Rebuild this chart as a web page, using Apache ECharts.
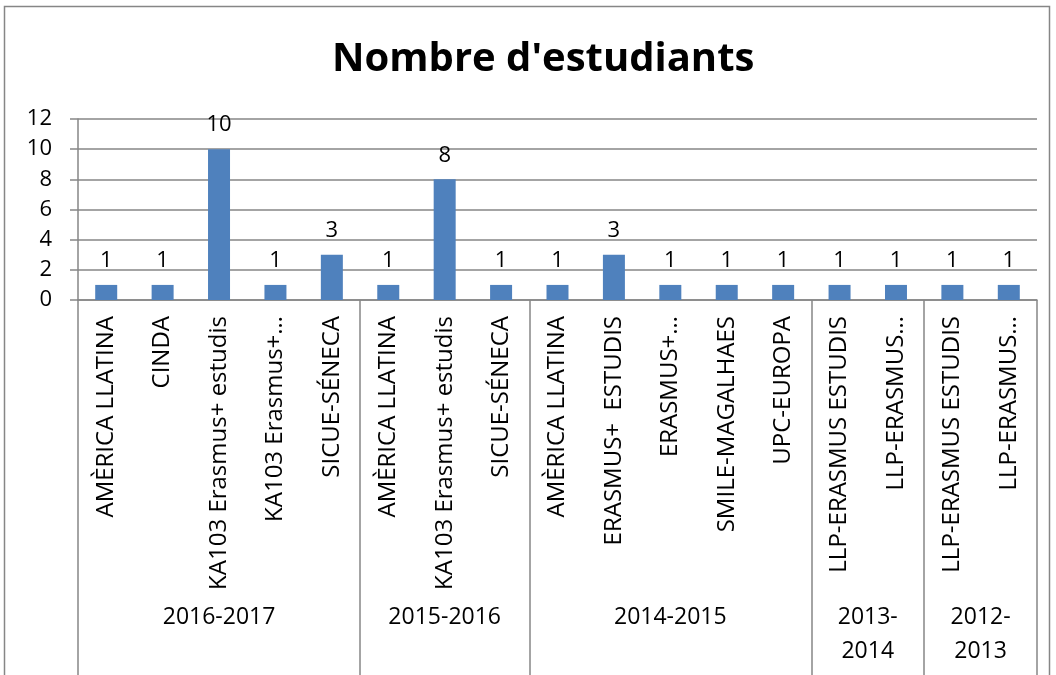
<!DOCTYPE html>
<html>
<head>
<meta charset="utf-8">
<title>Nombre d'estudiants</title>
<script src="https://cdn.jsdelivr.net/npm/echarts@6/dist/echarts.min.js"></script>
<style>
  html, body { margin: 0; padding: 0; background: #fff; }
  #chart { width: 1056px; height: 675px; }
</style>
</head>
<body>
<div id="chart"></div>
<script>
// programes per curs (ordre del gràfic)
const categories = [
  'AMÈRICA LLATINA', 'CINDA', 'KA103 Erasmus+ estudis', 'KA103 Erasmus+…', 'SICUE-SÉNECA',
  'AMÈRICA LLATINA', 'KA103 Erasmus+ estudis', 'SICUE-SÉNECA',
  'AMÈRICA LLATINA', 'ERASMUS+  ESTUDIS', 'ERASMUS+…', 'SMILE-MAGALHAES', 'UPC-EUROPA',
  'LLP-ERASMUS ESTUDIS', 'LLP-ERASMUS…',
  'LLP-ERASMUS ESTUDIS', 'LLP-ERASMUS…'
]
const students = [1, 1, 10, 1, 3, 1, 8, 1, 1, 3, 1, 1, 1, 1, 1, 1, 1]
const groups = ['2016-2017', '2015-2016', '2014-2015', '2013-\n2014', '2012-\n2013']
const groupSizes = [5, 3, 5, 2, 2]
const yTicks = { min: 0, max: 12, interval: 2 }

// eix de grups: un punt cada mitja categoria, etiqueta al centre de cada grup
const groupAxisData = []
for (let k = 0; k <= categories.length * 2; k++) groupAxisData.push('')
const groupBounds = [0]
let start = 0
groupSizes.forEach((n, i) => {
  groupAxisData[start * 2 + n] = groups[i]
  start += n
  groupBounds.push(start * 2)
})

const gray = '#868686'
const chart = echarts.init(document.getElementById('chart'))
chart.setOption({
  animation: false,
  textStyle: { fontFamily: 'Open Sans' },
  title: {
    text: "Nombre d'estudiants",
    left: 327,
    top: 35,
    textStyle: { fontFamily: 'Open Sans', fontWeight: 'bold', fontSize: 40, color: '#000' }
  },
  graphic: [{
    type: 'rect',
    shape: { x: 4.5, y: 6.5, width: 1045, height: 700 },
    style: { fill: 'none', stroke: gray, lineWidth: 1.5 },
    silent: true
  }],
  grid: { left: 78, right: 19, top: 119, bottom: 375 },
  xAxis: [{
    type: 'category',
    data: categories,
    axisLine: { lineStyle: { color: gray, width: 1.5 } },
    axisTick: { length: 282, lineStyle: { color: gray, width: 1.5 } },
    axisLabel: {
      rotate: 90,
      margin: 16,
      interval: 0,
      fontSize: 24,
      color: '#000',
      fontFamily: 'Open Sans'
    }
  }, {
    type: 'category',
    position: 'bottom',
    boundaryGap: false,
    data: groupAxisData,
    axisLine: { show: false },
    axisTick: {
      length: 380,
      interval: (idx) => groupBounds.indexOf(idx) !== -1,
      lineStyle: { color: gray, width: 1.5 }
    },
    axisLabel: {
      interval: 0,
      margin: 300,
      fontSize: 23,
      lineHeight: 34,
      verticalAlign: 'top',
      color: '#000',
      fontFamily: 'Open Sans'
    }
  }],
  yAxis: {
    type: 'value',
    min: yTicks.min,
    max: yTicks.max,
    interval: yTicks.interval,
    axisLine: { show: true, lineStyle: { color: gray, width: 1.5 } },
    axisTick: { show: true, length: 8, lineStyle: { color: gray, width: 1.5 } },
    splitLine: { lineStyle: { color: gray, width: 1.5 } },
    axisLabel: { fontSize: 22, color: '#000', margin: 26, fontFamily: 'Open Sans' }
  },
  series: [{
    type: 'bar',
    data: students,
    barWidth: 22,
    itemStyle: { color: '#4F81BD' },
    label: { show: true, position: 'top', distance: 13, fontSize: 22, color: '#000', fontFamily: 'Open Sans' }
  }]
})
</script>
</body>
</html>
